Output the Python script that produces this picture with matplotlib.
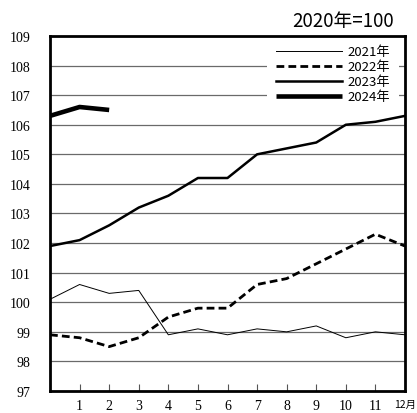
import matplotlib
matplotlib.use("Agg")
import matplotlib.pyplot as plt

# data (x = 0..12, index-level 2020 = 100)
months = list(range(13))
tick_pos = list(range(1, 13))
tick_labels = ["1", "2", "3", "4", "5", "6", "7", "8", "9", "10", "11", "12月"]

v2021 = [100.1, 100.6, 100.3, 100.4, 98.9, 99.1, 98.9, 99.1, 99.0, 99.2, 98.8, 99.0, 98.9]
v2022 = [98.9, 98.8, 98.5, 98.8, 99.5, 99.8, 99.8, 100.6, 100.8, 101.3, 101.8, 102.3, 101.9]
v2023 = [101.9, 102.1, 102.6, 103.2, 103.6, 104.2, 104.2, 105.0, 105.2, 105.4, 106.0, 106.1, 106.3]
v2024 = [106.3, 106.6, 106.5]

y_ticks = list(range(97, 110))

serif = ["Liberation Serif", "DejaVu Serif"]
sans = ["Noto Sans CJK JP", "DejaVu Sans"]

fig = plt.figure(figsize=(4.17, 4.14), dpi=100)
ax = fig.add_axes([50 / 417, 1 - 392 / 414, 355 / 417, 355 / 414])

# grid lines
for y in y_ticks[1:-1]:
    ax.axhline(y, color="#6a6a6a", lw=0.9, zorder=1)

ax.plot(months, v2021, color="black", lw=0.7, label="2021年", zorder=3)
ax.plot(months, v2022, color="black", lw=2.0, dashes=(2.8, 1.5), label="2022年", zorder=3)
ax.plot(months, v2023, color="black", lw=1.8, label="2023年", zorder=3)
ax.plot(months[:len(v2024)], v2024, color="black", lw=3.3, label="2024年", zorder=3,
        solid_capstyle="butt")

ax.set_xlim(0, 12)
ax.set_ylim(97, 109)
ax.set_yticks(y_ticks)
ax.set_yticklabels([str(y) for y in y_ticks], family=serif, fontsize=10)
ax.tick_params(axis="y", length=0, pad=14)

ax.set_xticks(tick_pos)
ax.set_xticklabels(tick_labels, family=serif, fontsize=10)
ax.tick_params(axis="x", direction="in", length=5, width=0.8, color="#555555", pad=6)
lab12 = ax.get_xticklabels()[-1]
lab12.set_fontsize(7.5)
lab12.set_family(["Noto Sans CJK JP", "Liberation Serif"])
ax.xaxis.get_major_ticks()[-1].tick1line.set_visible(False)

for s in ax.spines.values():
    s.set_linewidth(2.0)
    s.set_zorder(5)

leg = ax.legend(loc="upper right", bbox_to_anchor=(1.0 - 6 / 355, 1.0), frameon=True,
                facecolor="white", edgecolor="none", framealpha=1, fancybox=False,
                handlelength=5.0, handletextpad=0.4, labelspacing=0.15,
                borderpad=0.7, borderaxespad=0.0, prop={"family": sans, "size": 9.5})
leg.set_zorder(4)

fig.text(394 / 417, 1 - 22 / 414, "2020年=100", family=sans, fontsize=13.5,
         ha="right", va="center")

fig.savefig("out.png", dpi=100)
